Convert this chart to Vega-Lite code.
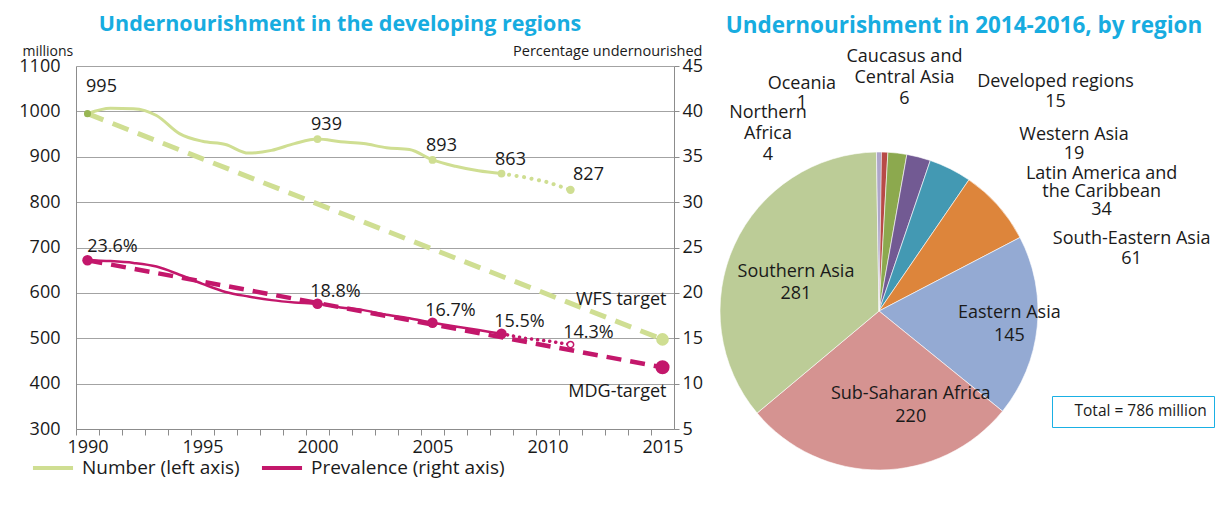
{
  "$schema": "https://vega.github.io/schema/vega-lite/v6.json",
  "padding": {"left": 18, "top": 13, "right": 0, "bottom": 0},
  "spacing": 15,
  "resolve": {"scale": {"color": "independent", "shape": "independent"}, "legend": {"color": "independent", "shape": "independent"}},
  "config": {"font": "Open Sans", "view": {"stroke": null}, "text": {"color": "#1a1a1a"}},
  "datasets": {
    "number": [
      {"year": 1990, "millions": 995}, {"year": 1991, "millions": 1007}, {"year": 1992, "millions": 1006},
      {"year": 1993, "millions": 991}, {"year": 1994, "millions": 951}, {"year": 1995, "millions": 934},
      {"year": 1996, "millions": 927}, {"year": 1997, "millions": 908}, {"year": 1998, "millions": 914},
      {"year": 1999, "millions": 929}, {"year": 2000, "millions": 939}, {"year": 2001, "millions": 933},
      {"year": 2002, "millions": 929}, {"year": 2003, "millions": 920}, {"year": 2004, "millions": 916},
      {"year": 2005, "millions": 893}, {"year": 2006, "millions": 879}, {"year": 2007, "millions": 869},
      {"year": 2008, "millions": 863}
    ],
    "number_proj": [
      {"year": 2008, "millions": 863}, {"year": 2009, "millions": 855}, {"year": 2010, "millions": 844}, {"year": 2011, "millions": 827}
    ],
    "prevalence": [
      {"year": 1990, "pct": 23.6}, {"year": 1991, "pct": 23.5}, {"year": 1992, "pct": 23.3},
      {"year": 1993, "pct": 22.9}, {"year": 1994, "pct": 22.0}, {"year": 1995, "pct": 21.0},
      {"year": 1996, "pct": 20.1}, {"year": 1997, "pct": 19.6}, {"year": 1998, "pct": 19.2},
      {"year": 1999, "pct": 18.95}, {"year": 2000, "pct": 18.8}, {"year": 2001, "pct": 18.4},
      {"year": 2002, "pct": 18.1}, {"year": 2003, "pct": 17.6}, {"year": 2004, "pct": 17.2},
      {"year": 2005, "pct": 16.7}, {"year": 2006, "pct": 16.3}, {"year": 2007, "pct": 15.9},
      {"year": 2008, "pct": 15.5}
    ],
    "prevalence_proj": [
      {"year": 2008, "pct": 15.5}, {"year": 2009, "pct": 15.0}, {"year": 2010, "pct": 14.7}, {"year": 2011, "pct": 14.3}
    ],
    "targets": [
      {"year": 1990, "millions": 995, "pct": 23.6, "wfs": "", "mdg": ""},
      {"year": 2015, "millions": 497.5, "pct": 11.8, "wfs": "WFS target", "mdg": "MDG-target"}
    ],
    "number_points": [
      {"year": 1990, "millions": 995, "label": "995", "kind": "baseline"},
      {"year": 2000, "millions": 939, "label": "939", "kind": "estimate"},
      {"year": 2005, "millions": 893, "label": "893", "kind": "estimate"},
      {"year": 2008, "millions": 863, "label": "863", "kind": "estimate"},
      {"year": 2011, "millions": 827, "label": "827", "kind": "projection"}
    ],
    "prevalence_points": [
      {"year": 1990, "pct": 23.6, "label": "23.6%", "kind": "baseline"},
      {"year": 2000, "pct": 18.8, "label": "18.8%", "kind": "estimate"},
      {"year": 2005, "pct": 16.7, "label": "16.7%", "kind": "estimate"},
      {"year": 2008, "pct": 15.5, "label": "15.5%", "kind": "estimate"},
      {"year": 2011, "pct": 14.3, "label": "14.3%", "kind": "projection"}
    ],
    "pie": [
      {"idx": 1, "region": "Oceania", "value": 1, "label": "Oceania\n1"},
      {"idx": 2, "region": "Caucasus and Central Asia", "value": 6, "label": "Caucasus and\nCentral Asia\n6"},
      {"idx": 3, "region": "Developed regions", "value": 15, "label": "Developed regions\n15"},
      {"idx": 4, "region": "Western Asia", "value": 19, "label": "Western Asia\n19"},
      {"idx": 5, "region": "Latin America and the Caribbean", "value": 34, "label": "Latin America and\nthe Caribbean\n34"},
      {"idx": 6, "region": "South-Eastern Asia", "value": 61, "label": "South-Eastern Asia\n61"},
      {"idx": 7, "region": "Eastern Asia", "value": 145, "label": "Eastern Asia\n145"},
      {"idx": 8, "region": "Sub-Saharan Africa", "value": 220, "label": "Sub-Saharan Africa\n220"},
      {"idx": 9, "region": "Southern Asia", "value": 281, "label": "Southern Asia\n281"},
      {"idx": 10, "region": "Northern Africa", "value": 4, "label": "Northern\nAfrica\n4"}
    ]
  },
  "hconcat": [
    {
      "width": 598,
      "height": 363,
      "title": {"text": "Undernourishment in the developing regions", "frame": "group", "anchor": "middle", "dx": -35, "offset": -9, "baseline": "alphabetic", "fontSize": 21.5, "fontWeight": "bold", "color": "#17ace0"},
      "encoding": {
        "x": {
          "field": "year", "type": "quantitative",
          "scale": {"domain": [1989.5, 2015.5], "nice": false, "zero": false},
          "axis": {
            "title": null,
            "values": [1990, 1991, 1992, 1993, 1994, 1995, 1996, 1997, 1998, 1999, 2000, 2001, 2002, 2003, 2004, 2005, 2006, 2007, 2008, 2009, 2010, 2011, 2012, 2013, 2014, 2015],
            "format": "d",
            "labelExpr": "datum.value % 5 === 0 ? datum.label : ''",
            "tickOffset": -11.5, "labelOffset": 11.5,
            "labelFlush": false, "labelOverlap": false,
            "tickSize": 6, "tickColor": "#8c8c8c", "domainColor": "#8c8c8c",
            "labelFontSize": 18, "labelPadding": 3, "labelColor": "#1a1a1a", "grid": false
          }
        }
      },
      "layer": [
        {
          "encoding": {
            "y": {
              "field": "millions", "type": "quantitative",
              "scale": {"domain": [300, 1100], "nice": false, "zero": false},
              "axis": {
                "orient": "left",
                "values": [300, 400, 500, 600, 700, 800, 900, 1000, 1100], "format": "d",
                "title": "millions", "titleAngle": 0, "titleAlign": "left", "titleBaseline": "alphabetic",
                "titleX": -54, "titleY": -11, "titleFontSize": 14, "titleFontWeight": "normal", "titleColor": "#1a1a1a",
                "grid": true, "gridColor": "#a3a3a3", "ticks": false, "tickSize": 0,
                "domainColor": "#8c8c8c", "labelFontSize": 18, "labelPadding": 16, "labelColor": "#1a1a1a"
              }
            }
          },
          "layer": [
            {"data": {"name": "targets"}, "mark": {"type": "line", "color": "#cfde92", "strokeWidth": 5, "strokeDash": [17, 10]}},
            {
              "data": {"name": "number"},
              "mark": {"type": "line", "strokeWidth": 3, "interpolate": "monotone"},
              "encoding": {
                "color": {
                  "datum": "Number (left axis)", "type": "nominal",
                  "scale": {"domain": ["Number (left axis)", "Prevalence (right axis)"], "range": ["#cfde92", "#c3176b"]},
                  "legend": {"orient": "none", "legendX": -37, "legendY": 388, "direction": "horizontal", "title": null,
                    "symbolType": "M-1.67,0H1.67", "symbolSize": 576, "symbolStrokeWidth": 4, "labelFontSize": 19, "labelLimit": 400,
                    "labelOffset": 15, "columnPadding": 13, "padding": 0, "labelColor": "#1a1a1a"}
                }
              }
            },
            {"data": {"name": "number_proj"}, "mark": {"type": "line", "color": "#cfde92", "strokeWidth": 4, "strokeDash": [0.1, 7.5], "strokeCap": "round"}},
            {
              "data": {"name": "number_points"},
              "mark": {"type": "point", "filled": true, "opacity": 1},
              "encoding": {
                "size": {"field": "kind", "type": "nominal", "scale": {"domain": ["baseline", "estimate", "projection"], "range": [50, 70, 115]}, "legend": null},
                "color": {"condition": {"test": "datum.kind === 'baseline'", "value": "#98b653"}, "value": "#cfde92"}
              }
            },
            {
              "data": {"name": "targets"},
              "transform": [{"filter": "datum.year === 2015"}],
              "mark": {"type": "point", "filled": true, "opacity": 1, "size": 160, "color": "#cfde92"}
            },
            {
              "data": {"name": "number_points"},
              "transform": [{"filter": "datum.year === 2000 || datum.year === 2005 || datum.year === 2008"}],
              "mark": {"type": "text", "fontSize": 18, "dx": 9, "dy": -9, "baseline": "alphabetic", "align": "center"},
              "encoding": {"text": {"field": "label"}}
            },
            {
              "data": {"name": "number_points"},
              "transform": [{"filter": "datum.year === 1990"}],
              "mark": {"type": "text", "fontSize": 18, "dx": 14, "dy": -22, "baseline": "alphabetic", "align": "center"},
              "encoding": {"text": {"field": "label"}}
            },
            {
              "data": {"name": "number_points"},
              "transform": [{"filter": "datum.year === 2011"}],
              "mark": {"type": "text", "fontSize": 18, "dx": 18, "dy": -10, "baseline": "alphabetic", "align": "center"},
              "encoding": {"text": {"field": "label"}}
            },
            {
              "data": {"name": "targets"},
              "transform": [{"filter": "datum.year === 2015"}],
              "mark": {"type": "text", "fontSize": 18, "dx": 4, "dy": -34, "baseline": "alphabetic", "align": "right"},
              "encoding": {"text": {"field": "wfs"}}
            }
          ]
        },
        {
          "encoding": {
            "y": {
              "field": "pct", "type": "quantitative",
              "scale": {"domain": [5, 45], "nice": false, "zero": false},
              "axis": {
                "orient": "right",
                "values": [5, 10, 15, 20, 25, 30, 35, 40, 45], "format": "d",
                "title": "Percentage undernourished", "titleAngle": 0, "titleAlign": "right", "titleBaseline": "alphabetic",
                "titleX": 28, "titleY": -11, "titleFontSize": 14.5, "titleFontWeight": "normal", "titleColor": "#1a1a1a",
                "grid": false, "ticks": true, "tickSize": 5, "tickColor": "#8c8c8c",
                "domainColor": "#8c8c8c", "labelFontSize": 18, "labelPadding": 3, "labelColor": "#1a1a1a"
              }
            }
          },
          "layer": [
            {"data": {"name": "targets"}, "mark": {"type": "line", "color": "#c3176b", "strokeWidth": 4.5, "strokeDash": [15, 9]}},
            {
              "data": {"name": "prevalence"},
              "mark": {"type": "line", "strokeWidth": 2.5, "interpolate": "monotone"},
              "encoding": {
                "color": {
                  "datum": "Prevalence (right axis)", "type": "nominal",
                  "scale": {"domain": ["Number (left axis)", "Prevalence (right axis)"], "range": ["#cfde92", "#c3176b"]}
                }
              }
            },
            {"data": {"name": "prevalence_proj"}, "mark": {"type": "line", "color": "#c3176b", "strokeWidth": 3.5, "strokeDash": [0.1, 6], "strokeCap": "round"}},
            {
              "data": {"name": "prevalence_points"},
              "transform": [{"filter": "datum.kind !== 'projection'"}],
              "mark": {"type": "point", "filled": true, "opacity": 1, "size": 110, "color": "#c3176b"}
            },
            {
              "data": {"name": "prevalence_points"},
              "transform": [{"filter": "datum.kind === 'projection'"}],
              "mark": {"type": "point", "filled": false, "fill": "#ffffff", "opacity": 1, "size": 40, "stroke": "#c3176b", "strokeWidth": 1.5}
            },
            {
              "data": {"name": "targets"},
              "transform": [{"filter": "datum.year === 2015"}],
              "mark": {"type": "point", "filled": true, "opacity": 1, "size": 200, "color": "#c3176b"}
            },
            {
              "data": {"name": "prevalence_points"},
              "transform": [{"filter": "datum.year !== 1990"}],
              "mark": {"type": "text", "fontSize": 18, "dx": 18, "dy": -7, "baseline": "alphabetic", "align": "center"},
              "encoding": {"text": {"field": "label"}}
            },
            {
              "data": {"name": "prevalence_points"},
              "transform": [{"filter": "datum.year === 1990"}],
              "mark": {"type": "text", "fontSize": 18, "dx": 25, "dy": -8, "baseline": "alphabetic", "align": "center"},
              "encoding": {"text": {"field": "label"}}
            },
            {
              "data": {"name": "targets"},
              "transform": [{"filter": "datum.year === 2015"}],
              "mark": {"type": "text", "fontSize": 18, "dx": 4, "dy": 30, "baseline": "alphabetic", "align": "right"},
              "encoding": {"text": {"field": "mdg"}}
            }
          ]
        }
      ],
      "resolve": {"scale": {"y": "independent"}}
    },
    {
      "spacing": 0,
      "bounds": "flush",
      "vconcat": [
        {
          "width": 318,
          "height": 86,
          "title": {"text": "Undernourishment in 2014-2016, by region", "frame": "group", "anchor": "middle", "dx": 85, "offset": 11, "baseline": "alphabetic", "fontSize": 22.5, "fontWeight": "bold", "color": "#17ace0"},
          "data": {"values": [{"note": ""}]},
          "mark": {"type": "text"},
          "encoding": {"text": {"field": "note"}}
        },
        {
          "width": 318,
          "height": 318,
          "layer": [
            {
              "data": {"name": "pie"},
              "transform": [
                {"stack": "value", "groupby": [], "sort": [{"field": "idx", "order": "ascending"}], "as": ["v0", "v1"]},
                {"calculate": "(datum.v0 + datum.v1) / 2", "as": "mid"}
              ],
              "layer": [
                {
                  "mark": {"type": "arc", "stroke": "#ffffff", "strokeWidth": 0.6},
                  "encoding": {
                    "theta": {"field": "v0", "type": "quantitative", "scale": {"zero": true, "nice": false}, "stack": null},
                    "theta2": {"field": "v1"},
                    "color": {
                      "field": "region", "type": "nominal", "legend": null,
                      "scale": {
                        "domain": ["Oceania", "Caucasus and Central Asia", "Developed regions", "Western Asia", "Latin America and the Caribbean", "South-Eastern Asia", "Eastern Asia", "Sub-Saharan Africa", "Southern Asia", "Northern Africa"],
                        "range": ["#4f81bd", "#b84a47", "#8ca94e", "#725a93", "#4399b3", "#dd853b", "#94aad3", "#d59391", "#bccc97", "#aea6c9"]
                      }
                    }
                  }
                },
                {"transform": [{"filter": "datum.region === 'Northern Africa'"}], "mark": {"type": "text", "radius": 180, "dx": -111, "dy": -18, "fontSize": 18, "lineBreak": "\n", "lineHeight": 21, "align": "center", "baseline": "middle"}, "encoding": {"theta": {"field": "mid", "type": "quantitative", "stack": null}, "text": {"field": "label"}}},
                {"transform": [{"filter": "datum.region === 'Oceania'"}], "mark": {"type": "text", "radius": 218, "dx": -78, "dy": -9.5, "fontSize": 18, "lineBreak": "\n", "lineHeight": 19, "align": "center", "baseline": "middle"}, "encoding": {"theta": {"field": "mid", "type": "quantitative", "stack": null}, "text": {"field": "label"}}},
                {"transform": [{"filter": "datum.region === 'Caucasus and Central Asia'"}], "mark": {"type": "text", "radius": 233, "dx": 18, "dy": -21, "fontSize": 18, "lineBreak": "\n", "lineHeight": 21, "align": "center", "baseline": "middle"}, "encoding": {"theta": {"field": "mid", "type": "quantitative", "stack": null}, "text": {"field": "label"}}},
                {"transform": [{"filter": "datum.region === 'Developed regions'"}], "mark": {"type": "text", "radius": 220, "dx": 151, "dy": -10, "fontSize": 18, "lineBreak": "\n", "lineHeight": 20, "align": "center", "baseline": "middle"}, "encoding": {"theta": {"field": "mid", "type": "quantitative", "stack": null}, "text": {"field": "label"}}},
                {"transform": [{"filter": "datum.region === 'Western Asia'"}], "mark": {"type": "text", "radius": 172, "dx": 152, "dy": -9.5, "fontSize": 18, "lineBreak": "\n", "lineHeight": 19, "align": "center", "baseline": "middle"}, "encoding": {"theta": {"field": "mid", "type": "quantitative", "stack": null}, "text": {"field": "label"}}},
                {"transform": [{"filter": "datum.region === 'Latin America and the Caribbean'"}], "mark": {"type": "text", "radius": 133, "dx": 163, "dy": -18, "fontSize": 18, "lineBreak": "\n", "lineHeight": 18, "align": "center", "baseline": "middle"}, "encoding": {"theta": {"field": "mid", "type": "quantitative", "stack": null}, "text": {"field": "label"}}},
                {"transform": [{"filter": "datum.region === 'South-Eastern Asia'"}], "mark": {"type": "text", "radius": 93, "dx": 183, "dy": -10, "fontSize": 18, "lineBreak": "\n", "lineHeight": 20, "align": "center", "baseline": "middle"}, "encoding": {"theta": {"field": "mid", "type": "quantitative", "stack": null}, "text": {"field": "label"}}},
                {"transform": [{"filter": "datum.region === 'Eastern Asia'"}], "mark": {"type": "text", "radius": 131, "dx": 0, "dy": -11.5, "fontSize": 18, "lineBreak": "\n", "lineHeight": 23, "align": "center", "baseline": "middle"}, "encoding": {"theta": {"field": "mid", "type": "quantitative", "stack": null}, "text": {"field": "label"}}},
                {"transform": [{"filter": "datum.region === 'Sub-Saharan Africa'"}], "mark": {"type": "text", "radius": 95, "dx": 31, "dy": -11.5, "fontSize": 18, "lineBreak": "\n", "lineHeight": 23, "align": "center", "baseline": "middle"}, "encoding": {"theta": {"field": "mid", "type": "quantitative", "stack": null}, "text": {"field": "label"}}},
                {"transform": [{"filter": "datum.region === 'Southern Asia'"}], "mark": {"type": "text", "radius": 88, "dx": -3, "dy": -2, "fontSize": 18, "lineBreak": "\n", "lineHeight": 22, "align": "center", "baseline": "middle"}, "encoding": {"theta": {"field": "mid", "type": "quantitative", "stack": null}, "text": {"field": "label"}}}
              ]
            },
            {
              "data": {"values": [{"note": "Total = 786 million"}]},
              "mark": {"type": "point", "opacity": 0},
              "encoding": {
                "shape": {
                  "field": "note", "type": "nominal",
                  "legend": {"orient": "none", "legendX": 332, "legendY": 330, "title": null, "strokeColor": "#1ab0e4",
                    "padding": 7, "symbolSize": 0, "symbolOpacity": 0, "labelFontSize": 15.5, "labelOffset": 0, "labelColor": "#1a1a1a"}
                }
              }
            }
          ]
        }
      ]
    }
  ]
}
